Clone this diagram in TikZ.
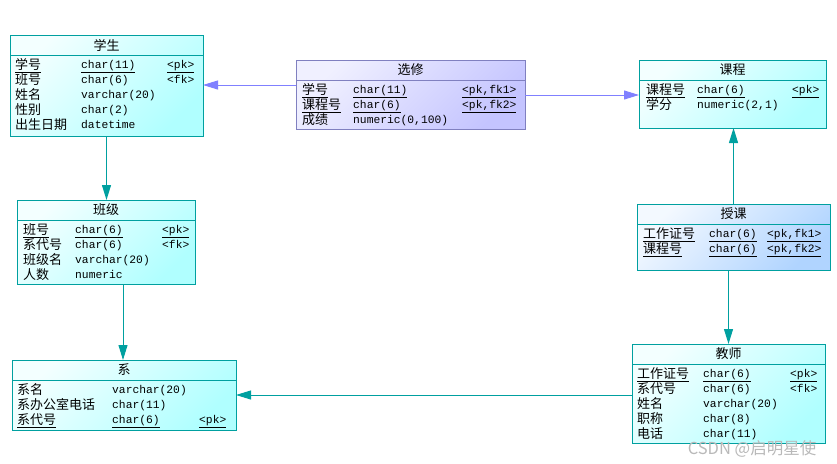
\documentclass[tikz,border=0pt]{standalone}
\usepackage{fontspec}
\usepackage{array}
\setmainfont{Noto Sans CJK SC}
\setmonofont{Liberation Mono}
\usetikzlibrary{arrows.meta,calc}
\definecolor{tealline}{HTML}{00A0A0}
\definecolor{cyanfill}{HTML}{B0FFFF}
\definecolor{violetline}{HTML}{8080C0}
\definecolor{violetfill}{HTML}{C4C4FF}
\definecolor{bluefill}{HTML}{B0D4FF}
\definecolor{bluearrow}{HTML}{8080FF}
\newsavebox{\cellbox}
\newcolumntype{N}[1]{>{\fontsize{13}{15}\selectfont\begin{lrbox}{\cellbox}}p{#1}<{\end{lrbox}\raisebox{-1.6pt}{\usebox{\cellbox}}}}
\newcolumntype{T}[1]{>{\ttfamily}p{#1}}
\newcolumntype{K}{>{\ttfamily}l}
\tikzset{
  ent/.style={draw=tealline, line width=1pt, top color=cyanfill!15, bottom color=cyanfill, shading angle=45, inner sep=0pt, outer sep=0pt, anchor=north west},
  rel/.style={draw=violetline, line width=1pt, top color=violetfill!25, bottom color=violetfill, shading angle=45, inner sep=0pt, outer sep=0pt, anchor=north west},
  lnk/.style={draw=tealline, line width=1pt, top color=bluefill!15, bottom color=bluefill, shading angle=45, inner sep=0pt, outer sep=0pt, anchor=north west},
  hdr/.style={tealline, line width=1pt},
  ttl/.style={font=\fontsize{13}{15}\selectfont, inner sep=0pt},
  attrs/.style={anchor=base west, inner sep=0pt, font=\fontsize{11.3}{15}\selectfont},
  tarrow/.style={tealline, line width=1pt, -{Triangle[length=15pt,width=9pt]}},
  barrow/.style={bluearrow, line width=1pt, -{Triangle[length=15pt,width=9pt]}},
  wmark/.style={text=gray!55, font=\fontsize{16.5}{18}\selectfont, inner sep=0pt}
}
\begin{document}
\begin{tikzpicture}[x=1pt,y=-1pt]
\fill[white] (0,0) rectangle (837,463);
\useasboundingbox (0,0) rectangle (837,463);
% tables
\node[ent, minimum width=193pt, minimum height=101pt] (stu) at (10,35) {};
\node[rel, minimum width=229pt, minimum height=69pt] (xx) at (296,60) {};
\node[ent, minimum width=187pt, minimum height=68pt] (kc) at (639,60) {};
\node[ent, minimum width=178pt, minimum height=84pt] (bj) at (17,200) {};
\node[lnk, minimum width=193pt, minimum height=66pt] (sk) at (637,204) {};
\node[ent, minimum width=224pt, minimum height=70pt] (xi) at (12,360) {};
\node[ent, minimum width=193pt, minimum height=99pt] (js) at (632,344) {};
\foreach \t in {stu,kc,bj,sk,xi,js}
  \draw[hdr] ($(\t.north west)+(0,20)$) -- ($(\t.north east)+(0,20)$);
\draw[hdr, violetline] ($(xx.north west)+(0,20)$) -- ($(xx.north east)+(0,20)$);
% titles
\node[ttl] (stu-t) at ($(stu.north)+(0,10)$) {学生};
\node[ttl] (xx-t) at ($(xx.north)+(0,10)$) {选修};
\node[ttl] (kc-t) at ($(kc.north)+(0,10)$) {课程};
\node[ttl] (bj-t) at ($(bj.north)+(0,10)$) {班级};
\node[ttl] (sk-t) at ($(sk.north)+(0,10)$) {授课};
\node[ttl] (xi-t) at ($(xi.north)+(0,10)$) {系};
\node[ttl] (js-t) at ($(js.north)+(0,10)$) {教师};
% columns
\node[attrs] (stu-b) at ($(stu.north west)+(5,33)$) {\begin{tabular}[t]{@{}N{66pt}@{}T{86pt}@{}K@{}}
\underline{学号} & \underline{char(11)} & \underline{<pk>}\\
班号 & char(6) & <fk>\\
姓名 & varchar(20) & \\
性别 & char(2) & \\
出生日期 & datetime &
\end{tabular}};
\node[attrs] (xx-b) at ($(xx.north west)+(6,33)$) {\begin{tabular}[t]{@{}N{51pt}@{}T{109pt}@{}K@{}}
\underline{学号} & \underline{char(11)} & \underline{<pk,fk1>}\\
\underline{课程号} & \underline{char(6)} & \underline{<pk,fk2>}\\
成绩 & numeric(0,100) &
\end{tabular}};
\node[attrs] (kc-b) at ($(kc.north west)+(7,33)$) {\begin{tabular}[t]{@{}N{51pt}@{}T{95pt}@{}K@{}}
\underline{课程号} & \underline{char(6)} & \underline{<pk>}\\
学分 & numeric(2,1) &
\end{tabular}};
\node[attrs] (bj-b) at ($(bj.north west)+(6,33)$) {\begin{tabular}[t]{@{}N{52pt}@{}T{87pt}@{}K@{}}
\underline{班号} & \underline{char(6)} & \underline{<pk>}\\
系代号 & char(6) & <fk>\\
班级名 & varchar(20) & \\
人数 & numeric &
\end{tabular}};
\node[attrs] (sk-b) at ($(sk.north west)+(6,33)$) {\begin{tabular}[t]{@{}N{66pt}@{}T{58pt}@{}K@{}}
\underline{工作证号} & \underline{char(6)} & \underline{<pk,fk1>}\\
\underline{课程号} & \underline{char(6)} & \underline{<pk,fk2>}
\end{tabular}};
\node[attrs] (xi-b) at ($(xi.north west)+(5,33)$) {\begin{tabular}[t]{@{}N{95pt}@{}T{87pt}@{}K@{}}
系名 & varchar(20) & \\
系办公室电话 & char(11) & \\
\underline{系代号} & \underline{char(6)} & \underline{<pk>}
\end{tabular}};
\node[attrs] (js-b) at ($(js.north west)+(5,33)$) {\begin{tabular}[t]{@{}N{66pt}@{}T{87pt}@{}K@{}}
\underline{工作证号} & \underline{char(6)} & \underline{<pk>}\\
系代号 & char(6) & <fk>\\
姓名 & varchar(20) & \\
职称 & char(8) & \\
电话 & char(11) &
\end{tabular}};
% references
\coordinate (xxl) at ($(xx.north west)+(0,25)$);
\coordinate (xxr) at ($(xx.north east)+(0,35)$);
\coordinate (bjs) at ($(bj.south)+(17,0)$);
\draw[barrow] (xxl) -- (xxl -| stu.east);
\draw[barrow] (xxr) -- (xxr -| kc.west);
\draw[tarrow] (stu.south) -- (stu.south |- bj.north);
\draw[tarrow] (bjs) -- (bjs |- xi.north);
\draw[tarrow] (sk.north) -- (sk.north |- kc.south);
\draw[tarrow] (js.north |- sk.south) -- (js.north);
\draw[tarrow] (xi.east -| js.west) -- (xi.east);
\node[wmark] (csdn) at (752,449) {CSDN @启明星使};
\end{tikzpicture}
\end{document}
